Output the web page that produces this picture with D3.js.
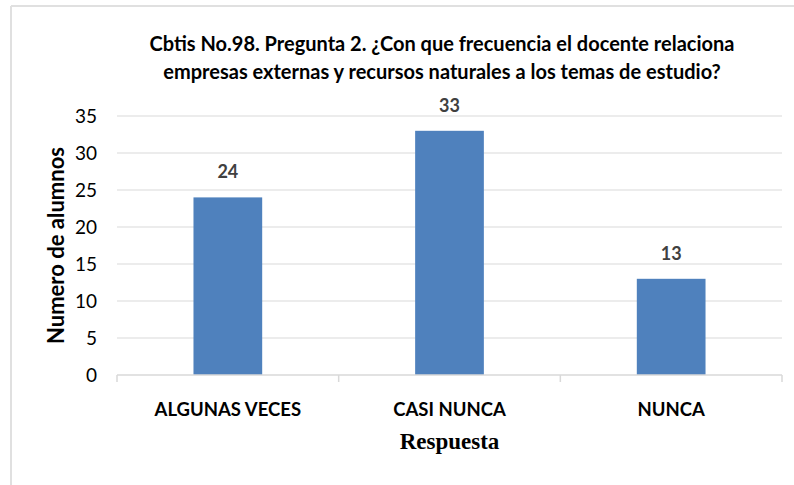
<!DOCTYPE html>
<html>
<head>
<meta charset="utf-8">
<script src="https://cdn.jsdelivr.net/npm/d3@7"></script>
<style>
  body { margin: 0; background: #fff; }
  text { font-family: Lato, "Open Sans", sans-serif; }
</style>
</head>
<body>
<svg id="chart" width="794" height="485"></svg>
<script>
const categories = ["ALGUNAS VECES", "CASI NUNCA", "NUNCA"];
const values = [24, 33, 13];
const yTicks = [0, 5, 10, 15, 20, 25, 30, 35];
const titleLines = [
  "Cbtis No.98. Pregunta 2. ¿Con que frecuencia el docente relaciona",
  "empresas externas y recursos naturales a los temas de estudio?"
];

const svg = d3.select("#chart");

const plotLeft = 117;
const plotRight = 782;
const plotTop = 116;
const plotBottom = 375;

// chart frame (only top and left edges are visible)
svg.append("line")
  .attr("x1", 11).attr("x2", 794).attr("y1", 6).attr("y2", 6)
  .attr("stroke", "#e0e0e0").attr("stroke-width", 2);
svg.append("line")
  .attr("x1", 11).attr("x2", 11).attr("y1", 6).attr("y2", 485)
  .attr("stroke", "#e0e0e0").attr("stroke-width", 2);

const x = d3.scaleBand()
  .domain(categories)
  .range([plotLeft, plotRight]);

const barWidth = x.bandwidth() * 0.31;

const y = d3.scaleLinear()
  .domain([0, 35])
  .range([plotBottom, plotTop]);

// gridlines
svg.append("g")
  .selectAll("line")
  .data(yTicks.filter(d => d > 0))
  .join("line")
  .attr("x1", plotLeft)
  .attr("x2", plotRight)
  .attr("y1", d => y(d))
  .attr("y2", d => y(d))
  .attr("stroke", "#d9d9d9")
  .attr("stroke-width", 1);

// y tick labels
svg.append("g")
  .selectAll("text")
  .data(yTicks)
  .join("text")
  .attr("x", 97)
  .attr("y", d => y(d))
  .attr("dy", "0.35em")
  .attr("text-anchor", "end")
  .attr("font-size", 19)
  .attr("fill", "#000")
  .text(d => d);

// bars
svg.append("g")
  .selectAll("rect")
  .data(values)
  .join("rect")
  .attr("x", (d, i) => x(categories[i]) + x.bandwidth() / 2 - barWidth / 2)
  .attr("width", barWidth)
  .attr("y", d => y(d))
  .attr("height", d => plotBottom - y(d))
  .attr("fill", "#4f81bd");

// value labels
svg.append("g")
  .selectAll("text")
  .data(values)
  .join("text")
  .attr("x", (d, i) => x(categories[i]) + x.bandwidth() / 2)
  .attr("y", d => y(d) - 19)
  .attr("text-anchor", "middle")
  .attr("font-size", 18)
  .attr("font-weight", "bold")
  .attr("fill", "#404040")
  .text(d => d);

// x axis line and ticks
svg.append("line")
  .attr("x1", plotLeft).attr("x2", plotRight)
  .attr("y1", plotBottom).attr("y2", plotBottom)
  .attr("stroke", "#d9d9d9").attr("stroke-width", 1.5);

const boundaries = categories.map(c => x(c)).concat([plotRight]);
svg.append("g")
  .selectAll("line")
  .data(boundaries)
  .join("line")
  .attr("x1", d => d).attr("x2", d => d)
  .attr("y1", plotBottom).attr("y2", plotBottom + 7)
  .attr("stroke", "#d9d9d9").attr("stroke-width", 1.5);

// category labels
svg.append("g")
  .selectAll("text")
  .data(categories)
  .join("text")
  .attr("x", d => x(d) + x.bandwidth() / 2)
  .attr("y", 416)
  .attr("text-anchor", "middle")
  .attr("font-size", 18.5)
  .attr("font-weight", "bold")
  .attr("fill", "#000")
  .text(d => d);

// axis titles
svg.append("text")
  .attr("x", (plotLeft + plotRight) / 2)
  .attr("y", 449)
  .attr("text-anchor", "middle")
  .style("font-family", "'Liberation Serif', serif")
  .attr("font-size", 23)
  .attr("font-weight", "bold")
  .text("Respuesta");

svg.append("text")
  .attr("transform", `translate(64, ${(plotTop + plotBottom) / 2}) rotate(-90)`)
  .attr("text-anchor", "middle")
  .attr("font-size", 22)
  .attr("font-weight", "bold")
  .text("Numero de alumnos");

// title
svg.append("g")
  .selectAll("text")
  .data(titleLines)
  .join("text")
  .attr("x", 442)
  .attr("y", (d, i) => 51 + i * 28)
  .attr("text-anchor", "middle")
  .attr("font-size", 20)
  .attr("font-weight", "bold")
  .text(d => d);
</script>
</body>
</html>
